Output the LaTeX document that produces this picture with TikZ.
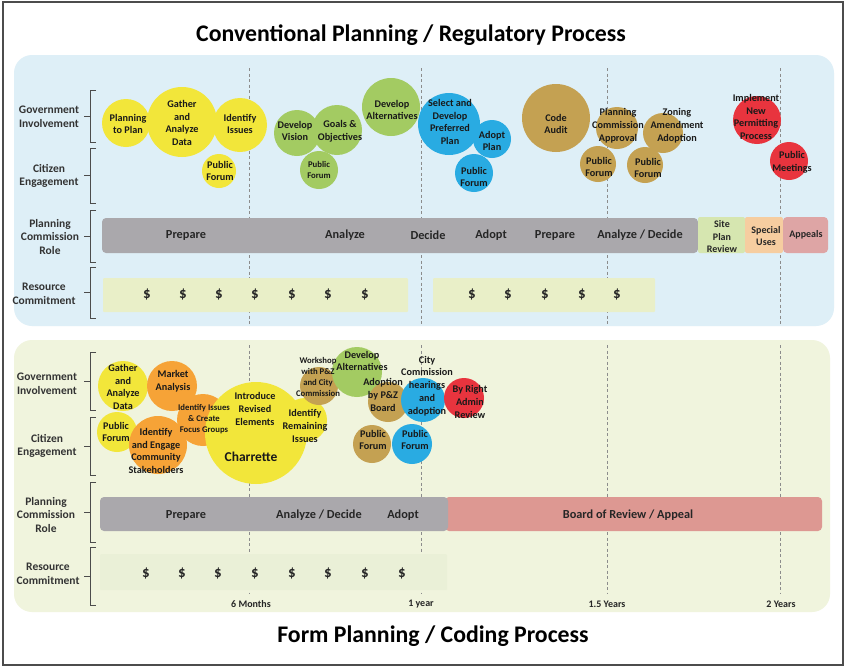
\documentclass[tikz,border=0pt]{standalone}
\usepackage{fontspec}
\setmainfont{Carlito}
\definecolor{pblue}{RGB}{222,239,247}
\definecolor{pgreen}{RGB}{240,244,221}
\definecolor{cyel}{RGB}{242,230,58}
\definecolor{cgrn}{RGB}{163,203,98}
\definecolor{cblu}{RGB}{41,171,226}
\definecolor{cgld}{RGB}{196,161,82}
\definecolor{cred}{RGB}{232,52,62}
\definecolor{corg}{RGB}{246,163,55}
\definecolor{bgray}{RGB}{170,168,172}
\definecolor{rbar}{RGB}{233,239,200}
\definecolor{rbar2}{RGB}{234,240,215}
\definecolor{sitec}{RGB}{214,230,176}
\definecolor{specc}{RGB}{246,205,160}
\definecolor{appc}{RGB}{222,165,165}
\definecolor{boardc}{RGB}{221,152,146}
\begin{document}
\begin{tikzpicture}[x=1pt,y=-1pt,
  bub/.style={circle, inner sep=0pt, draw=none},
  bt/.style={font=\bfseries\fontsize{10.2}{12.8}\selectfont, align=center, inner sep=0pt, text=black!90},
  bts/.style={font=\bfseries\fontsize{8.7}{11.3}\selectfont, align=center, inner sep=0pt, text=black!90},
  rowlab/.style={font=\bfseries\fontsize{11.5}{13.7}\selectfont, align=center, inner sep=0pt, text=black!80},
  barlab/.style={font=\bfseries\fontsize{12.3}{13}\selectfont, inner sep=0pt, text=black!85},
  boxlab/.style={font=\bfseries\fontsize{10}{12.5}\selectfont, align=center, inner sep=0pt, text=black!85},
  dollar/.style={font=\bfseries\fontsize{15}{17}\selectfont, inner sep=0pt, text=black!85},
  timel/.style={font=\bfseries\fontsize{10}{12}\selectfont, inner sep=0pt, text=black!85},
  ttl/.style={font=\bfseries\fontsize{23.8}{28}\selectfont, inner sep=0pt},
  tline/.style={draw=black!45, line width=0.6pt, dash pattern=on 3pt off 2.5pt},
  brace/.style={draw=black!70, line width=0.9pt},
  barbox/.style={draw=none, rounded corners=4pt, inner sep=0pt}
]
\useasboundingbox (0,0) rectangle (847,670);
\fill[white] (0,0) rectangle (847,670);
% frame
\draw[black!70, line width=1.1pt] (3,2) rectangle (843,665);

% panels
\fill[pblue, rounded corners=18pt] (14,55) rectangle (834,326);
\fill[pgreen, rounded corners=18pt] (14,340) rectangle (830,612);

% titles
\node[ttl] (t1) at (411,35) {Conventional Planning / Regulatory Process};
\node[ttl] (t2) at (433,636) {Form Planning / Coding Process};

% timeline dashed lines
\foreach \n/\xx in {a/249,b/421,c/607,d/780}{
  \coordinate (tt\n) at (\xx,68);
  \coordinate (tb\n) at (\xx,325);
  \draw[tline] (tt\n) -- (tb\n);
  \coordinate (bt\n) at (\xx,345);
  \coordinate (bb\n) at (\xx,594);
  \draw[tline] (bt\n) -- (bb\n);
}

% row labels and braces
\node[rowlab] (l1) at (49,117) {Government\\Involvement};
\node[rowlab] (l2) at (49,176) {Citizen\\Engagement};
\node[rowlab] (l3) at (50,237) {Planning\\Commission\\Role};
\node[rowlab] (l4) at (44,294) {Resource\\Commitment};
\node[rowlab] (l5) at (47,384) {Government\\Involvement};
\node[rowlab] (l6) at (47,446) {Citizen\\Engagement};
\node[rowlab] (l7) at (46,515) {Planning\\Commission\\Role};
\node[rowlab] (l8) at (48,574) {Resource\\Commitment};
\foreach \t/\b in {90/142,148/203,210/262,267/318,352/410,417/475,482/542,547/605}{
  \draw[brace] (96,\t) -- (90,\t) -- (90,\b) -- (96,\b);
  \draw[brace] (90,{(\t+\b)/2}) -- (84,{(\t+\b)/2});
}

% top planning commission bar
\node[barbox, fill=bgray, minimum width=596, minimum height=35] (pbar1) at (400,235.5) {};
\node[barbox, fill=sitec, rounded corners=2pt, minimum width=47, minimum height=36] (site) at (721.5,235) {};
\node[barbox, fill=specc, rounded corners=2pt, minimum width=38, minimum height=36] (spec) at (764,235) {};
\node[barbox, fill=appc, minimum width=45, minimum height=36] (app) at (805.5,235) {};
\node[barlab] (pb1) at (186,235) {Prepare};
\node[barlab] (pb2) at (345,235) {Analyze};
\node[barlab] (pb3) at (428,235) {Decide};
\node[barlab] (pb4) at (491,235) {Adopt};
\node[barlab] (pb5) at (555,235) {Prepare};
\node[barlab] (pb6) at (640,235) {Analyze / Decide};
\node[boxlab] (sitel) at (722,237) {Site\\Plan\\Review};
\node[boxlab] (specl) at (766,236) {Special\\Uses};
\node[boxlab] (appl) at (806,235) {Appeals};

% top resource bars
\node[barbox, fill=rbar, rounded corners=1pt, minimum width=305, minimum height=34] (res1) at (255.5,295) {};
\node[barbox, fill=rbar, rounded corners=1pt, minimum width=222, minimum height=34] (res2) at (544,295) {};
\foreach \i/\xx in {1/147,2/183,3/219,4/255,5/292,6/328,7/365,8/472,9/508,10/545,11/582,12/617}{
  \node[dollar] (d\i) at (\xx,294) {\$};
}

% bottom planning bar
\node[barbox, fill=boardc, minimum width=377, minimum height=34] (board) at (633.5,514) {};
\node[barbox, fill=bgray, minimum width=348, minimum height=34] (pbar2) at (274,514) {};
\node[barlab] (qb1) at (186,515) {Prepare};
\node[barlab] (qb2) at (319,515) {Analyze / Decide};
\node[barlab] (qb3) at (403,515) {Adopt};
\node[barlab] (qb4) at (628,515) {Board of Review / Appeal};

% bottom resource band
\node[barbox, fill=rbar2, rounded corners=1pt, minimum width=347, minimum height=36] (res3) at (273.5,572) {};
\foreach \i/\xx in {1/146,2/182,3/218,4/255,5/292,6/328,7/365,8/402}{
  \node[dollar] (e\i) at (\xx,573) {\$};
}

% time labels
\node[timel] (m1) at (251,604) {6 Months};
\node[timel] (m2) at (421,604) {1 year};
\node[timel] (m3) at (607,604) {1.5 Years};
\node[timel] (m4) at (781,604) {2 Years};

% ---------- top bubbles ----------
\node[bub, fill=cyel, minimum size=48] (a1) at (126,123) {};
\node[bub, fill=cyel, minimum size=70] (a2) at (182,122) {};
\node[bub, fill=cyel, minimum size=54] (a3) at (240,125) {};
\node[bub, fill=cyel, minimum size=34] (a4) at (219,171) {};
\node[bub, fill=cgrn, minimum size=46] (a5) at (297,133) {};
\node[bub, fill=cgrn, minimum size=50] (a6) at (337,130) {};
\node[bub, fill=cgrn, minimum size=38] (a7) at (319,170) {};
\node[bub, fill=cgrn, minimum size=58] (a8) at (391,107) {};
\node[bub, fill=cblu, minimum size=62] (a9) at (449,124) {};
\node[bub, fill=cblu, minimum size=38] (a10) at (492,139) {};
\node[bub, fill=cblu, minimum size=38] (a11) at (474,173) {};
\node[bub, fill=cgld, minimum size=68] (a12) at (556,118) {};
\node[bub, fill=cgld, minimum size=42] (a13) at (617,128) {};
\node[bub, fill=cgld, minimum size=40] (a14) at (663,133) {};
\node[bub, fill=cgld, minimum size=36] (a15) at (598,164) {};
\node[bub, fill=cgld, minimum size=36] (a16) at (645,165) {};
\node[bub, fill=cred, minimum size=48] (a17) at (757,120) {};
\node[bub, fill=cred, minimum size=38] (a18) at (789,161) {};

\node[bt] (a1t) at (128,124) {Planning\\to Plan};
\node[bt] (a2t) at (182,123) {Gather\\and\\Analyze\\Data};
\node[bt] (a3t) at (240,124) {Identify\\Issues};
\node[bt] (a4t) at (220,171) {Public\\Forum};
\node[bt] (a5t) at (295,131) {Develop\\Vision};
\node[bt] (a6t) at (340,131) {Goals \&\\Objectives};
\node[bts] (a7t) at (319,170) {Public\\Forum};
\node[bt] (a8t) at (392,110) {Develop\\Alternatives};
\node[bt] (a9t) at (450,122) {Select and\\Develop\\Preferred\\Plan};
\node[bt] (a10t) at (492,141) {Adopt\\Plan};
\node[bt] (a11t) at (474,177) {Public\\Forum};
\node[bt] (a12t) at (556,124) {Code\\Audit};
\node[bt] (a13t) at (618,126) {Planning\\Commission\\Approval};
\node[bt] (a14t) at (677,126) {Zoning\\Amendment\\Adoption};
\node[bt] (a15t) at (599,167) {Public\\Forum};
\node[bt] (a16t) at (648,168) {Public\\Forum};
\node[bt] (a17t) at (756,117) {Implement\\New\\Permitting\\Process};
\node[bt] (a18t) at (792,162) {Public\\Meetings};

% ---------- bottom bubbles ----------
\node[bub, fill=cyel, minimum size=50] (b1) at (123,386) {};
\node[bub, fill=cyel, minimum size=40] (b2) at (117,432) {};
\node[bub, fill=corg, minimum size=50] (b3) at (172,386) {};
\node[bub, fill=corg, minimum size=58] (b4) at (158,445) {};
\node[bub, fill=corg, minimum size=52] (b5) at (203,420) {};
\node[bub, fill=cyel, minimum size=102] (b6) at (256,433) {};
\node[bub, fill=cyel, minimum size=44] (b7) at (305,420) {};
\node[bub, fill=cgld, minimum size=38] (b8) at (319,386) {};
\node[bub, fill=cgrn, minimum size=50] (b9) at (357,372) {};
\node[bub, fill=cgld, minimum size=40] (b10) at (388,402) {};
\node[bub, fill=cgld, minimum size=38] (b11) at (372,444) {};
\node[bub, fill=cblu, minimum size=44] (b12) at (423,400) {};
\node[bub, fill=cblu, minimum size=40] (b13) at (412,444) {};
\node[bub, fill=cred, minimum size=40] (b14) at (464,398) {};

\node[bt] (b1t) at (123,387) {Gather\\and\\Analyze\\Data};
\node[bt] (b2t) at (116,432) {Public\\Forum};
\node[bt] (b3t) at (173,381) {Market\\Analysis};
\node[bt] (b4t) at (156,451) {Identify\\and Engage\\Community\\Stakeholders};
\node[bts] (b5t) at (204,419) {Identify Issues\\\& Create\\Focus Groups};
\node[bt] (b6t) at (255,409) {Introduce\\Revised\\Elements};
\node[font=\bfseries\fontsize{13.5}{15}\selectfont, inner sep=0pt, text=black!90] (b6c) at (251,457) {Charrette};
\node[bt] (b7t) at (305,426) {Identify\\Remaining\\Issues};
\node[bts] (b8t) at (318,377) {Workshop\\with P\&Z\\and City\\Commission};
\node[bt] (b9t) at (362,361) {Develop\\Alternatives};
\node[bt] (b10t) at (383,395) {Adoption\\by P\&Z\\Board};
\node[bt] (b11t) at (373,440) {Public\\Forum};
\node[bt] (b12t) at (427,386) {City\\Commission\\hearings\\and\\adoption};
\node[bt] (b13t) at (415,440) {Public\\Forum};
\node[bt] (b14t) at (470,402) {By Right\\Admin\\Review};
\end{tikzpicture}
\end{document}
